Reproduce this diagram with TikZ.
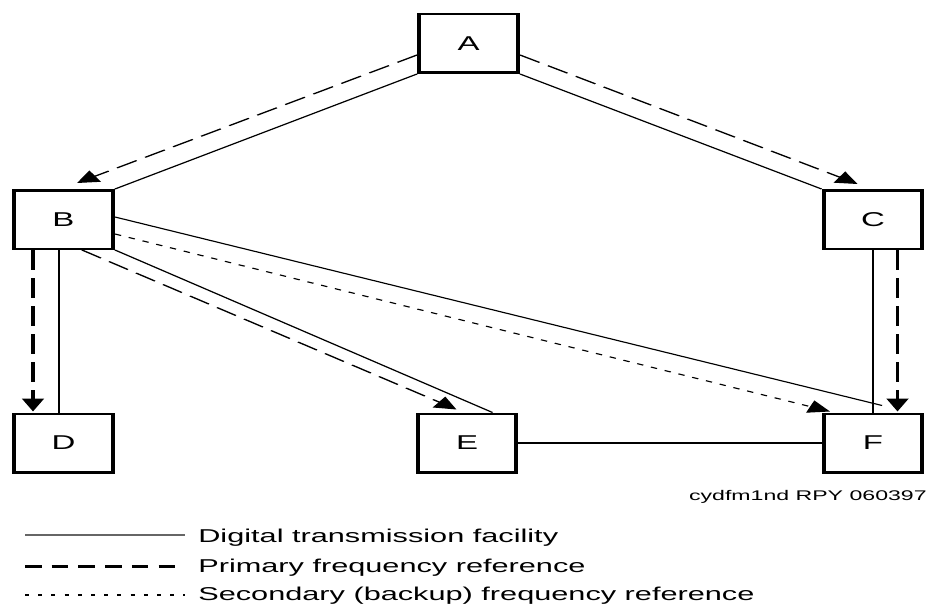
\documentclass[tikz,border=0pt]{standalone}
\usepackage{fontspec}
\setmainfont{Liberation Sans}
\usetikzlibrary{arrows.meta,calc}
\begin{document}
\begin{tikzpicture}[x=1pt,y=-1pt]
\useasboundingbox[fill=white] (0,0) rectangle (928,604);
\begin{scope}[transform canvas={xscale=1.65}, x=0.60606pt, y=-1pt,
  box/.style={draw, line width=2.5pt, minimum width=59.9pt, minimum height=58.5pt,
              inner sep=0pt, font=\fontsize{20}{24}\selectfont},
  link/.style={line width=1.1pt},
  tip/.style={-{Triangle[length=13pt,width=13pt]}},
  prim/.style={line width=1.2pt, dash pattern=on 14pt off 6pt, tip},
  primv/.style={line width=2.2pt, dash pattern=on 20pt off 8pt, tip},
  sec/.style={line width=1.1pt, dash pattern=on 4pt off 5pt, tip},
  legtext/.style={anchor=base west, inner sep=0pt, font=\fontsize{18.6}{22}\selectfont}]

\node[box] (A) at (468.5,43.5) {A};
\node[box] (B) at (63.5,219.5) {B};
\node[box] (C) at (873,219.5) {C};
\node[box] (D) at (63.5,443) {D};
\node[box] (E) at (467,443) {E};
\node[box] (F) at (873,443) {F};

% A to B and C
\draw[link] (A.south west) -- (B.north east);
\draw[prim] ($(A.west)+(0,11.5)$) -- ($(B.north)+(13.5,-6)$);
\draw[link] (A.south east) -- (C.north west);
\draw[prim] ($(A.east)+(0,11.5)$) -- ($(C.north)+(-15.5,-5)$);

% B to D
\draw[primv] ($(B.south)+(-30.5,0)$) -- ($(D.north)+(-30.5,-1)$);
\draw[link] ($(B.south)+(-4.5,0)$) -- ($(D.north)+(-4.5,0)$);

% B to E
\draw[link] (B.south east) -- ($(E.north)+(25.5,0)$);
\draw[prim] ($(B.south)+(18.5,0)$) -- ($(E.north)+(-10.5,-3)$);

% B to F
\draw[link] ($(B.east)+(0,-2.5)$) -- ($(F.north)+(9,-7)$);
\draw[sec] ($(B.east)+(0,14.5)$) -- ($(F.north)+(-43,-1)$);

% C to F
\draw[link] (C.south) -- (F.north);
\draw[primv] ($(C.south)+(24.5,0)$) -- ($(F.north)+(24.5,-1)$);

% E to F
\draw[link] (E.east) -- (F.west);

% reference label
\node[anchor=base east, inner sep=0pt, font=\fontsize{14}{16}\selectfont] (lbl) at (927,500) {cydfm1nd RPY 060397};

% legend
\node[legtext] (t1) at (198,542) {Digital transmission facility};
\node[legtext] (t2) at (198,572) {Primary frequency reference};
\node[legtext] (t3) at (198,600.5) {Secondary (backup) frequency reference};
\coordinate (l1a) at (25,535);   \coordinate (l1b) at (185,535);
\coordinate (l2a) at (25,566.5); \coordinate (l2b) at (185,566.5);
\coordinate (l3a) at (25,595);   \coordinate (l3b) at (185,595);
\draw[black!60, line width=1.8pt] (l1a) -- (l1b);
\draw[line width=2.4pt, dash pattern=on 10pt off 6.2pt] (l2a) -- (l2b);
\draw[line width=1.5pt, dash pattern=on 2.4pt off 5.6pt] (l3a) -- (l3b);
\end{scope}
\end{tikzpicture}
\end{document}
